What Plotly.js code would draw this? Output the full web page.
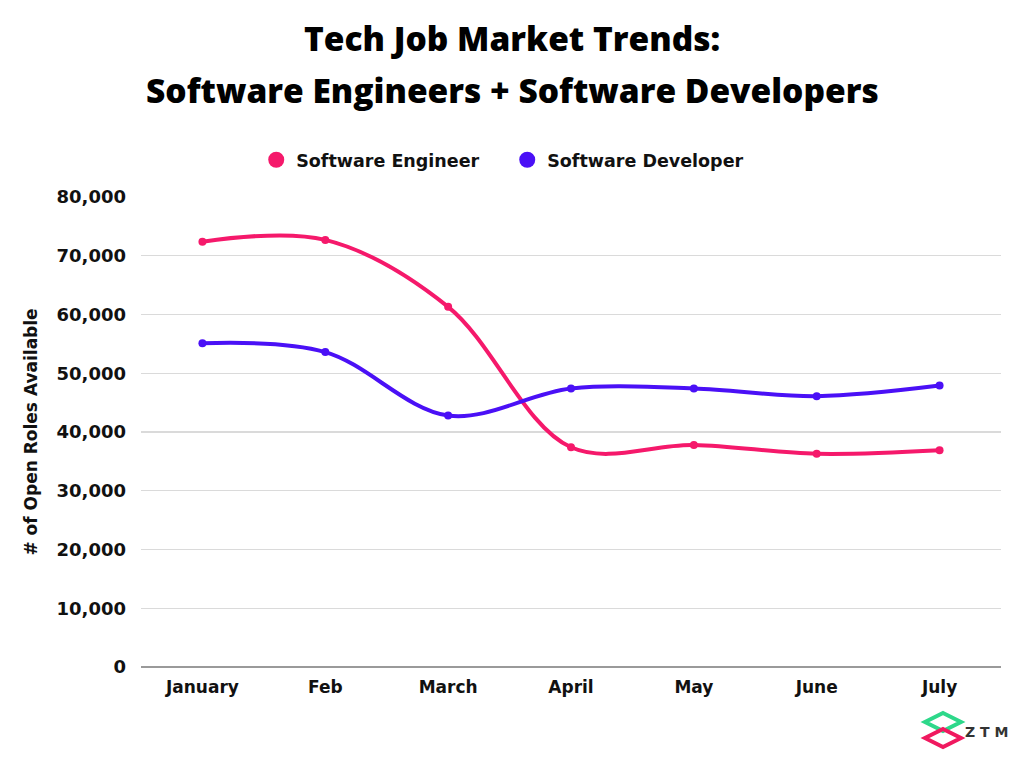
<!DOCTYPE html>
<html>
<head>
<meta charset="utf-8">
<script src="https://cdn.plot.ly/plotly-3.0.1.min.js"></script>
<style>
  html, body { margin: 0; padding: 0; background: #ffffff; }
  #chart { width: 1024px; height: 768px; }
</style>
</head>
<body>
<div id="chart"></div>
<script>
const months = ["January", "Feb", "March", "April", "May", "June", "July"];
const softwareEngineer = [72400, 72700, 61300, 37400, 37800, 36300, 36900];
const softwareDeveloper = [55100, 53600, 42800, 47400, 47400, 46100, 47900];
const yTicks = [0, 10000, 20000, 30000, 40000, 50000, 60000, 70000, 80000];
const yTickLabels = ["0", "10,000", "20,000", "30,000", "40,000", "50,000", "60,000", "70,000", "80,000"];

const pink = "#F5196B";
const purple = "#4A10F6";
const FONT = "'DejaVu Sans', sans-serif";
const TFONT = "'Open Sans', sans-serif";

const traces = [
  {
    x: months, y: softwareEngineer, type: "scatter", mode: "lines+markers",
    name: "Software Engineer", showlegend: false,
    line: { color: pink, width: 4, shape: "spline", smoothing: 1 },
    marker: { color: pink, size: 8 }, hoverinfo: "skip"
  },
  {
    x: months, y: softwareDeveloper, type: "scatter", mode: "lines+markers",
    name: "Software Developer", showlegend: false,
    line: { color: purple, width: 4, shape: "spline", smoothing: 1 },
    marker: { color: purple, size: 8 }, hoverinfo: "skip"
  },
  {
    x: [null], y: [null], type: "scatter", mode: "markers",
    name: "Software Engineer", marker: { color: pink, size: 20 }, hoverinfo: "skip"
  },
  {
    x: [null], y: [null], type: "scatter", mode: "markers",
    name: "Software Developer", marker: { color: purple, size: 20 }, hoverinfo: "skip"
  }
];

const layout = {
  width: 1024, height: 768,
  paper_bgcolor: "#ffffff", plot_bgcolor: "#ffffff",
  margin: { l: 141, r: 23, t: 197, b: 101 },
  font: { family: FONT, color: "#111111" },
  showlegend: true,
  legend: {
    orientation: "h", x: 0.134, xanchor: "left", y: 1.079, yanchor: "middle",
    font: { family: FONT, size: 17.5, weight: 700, color: "#111111" },
    itemsizing: "trace", itemwidth: 30, tracegroupgap: 0,
    entrywidth: 206, entrywidthmode: "pixels",
    bgcolor: "rgba(0,0,0,0)"
  },
  xaxis: {
    type: "category", categoryorder: "array", categoryarray: months,
    range: [-0.5, 6.5], showgrid: false, zeroline: false, showline: false,
    ticks: "", ticklabelstandoff: 8,
    tickfont: { family: FONT, size: 17, weight: 700, color: "#111111" },
    fixedrange: true
  },
  yaxis: {
    range: [0, 80000], tickvals: yTicks, ticktext: yTickLabels,
    showgrid: true, gridcolor: "#DADADA", gridwidth: 1.3,
    zeroline: true, zerolinecolor: "#9A9A9A", zerolinewidth: 1.5,
    showline: false, ticks: "", ticklabelstandoff: 14,
    tickfont: { family: FONT, size: 18, weight: 700, color: "#111111" },
    title: { text: "# of Open Roles Available", standoff: 14,
             font: { family: FONT, size: 17, weight: 700, color: "#111111" } },
    fixedrange: true
  },
  annotations: [
    { text: "Tech Job Market Trends:", xref: "paper", yref: "paper",
      x: (512 - 141) / 860, y: (667 - 38) / 470, xanchor: "center", yanchor: "middle",
      showarrow: false, font: { family: TFONT, size: 33.5, weight: 800, color: "#000000" } },
    { text: "Software Engineers + Software Developers", xref: "paper", yref: "paper",
      x: (512 - 141) / 860, y: (667 - 90) / 470, xanchor: "center", yanchor: "middle",
      showarrow: false, font: { family: TFONT, size: 33.5, weight: 800, color: "#000000" } },
    { text: "Z T M", xref: "paper", yref: "paper",
      x: (986 - 141) / 860, y: (667 - 732) / 470, xanchor: "center", yanchor: "middle",
      showarrow: false, font: { family: FONT, size: 14, weight: 700, color: "#333333" } }
  ],
  shapes: [
    { type: "path", xref: "paper", yref: "paper", layer: "above",
      path: "M " + ((943 - 141) / 860) + "," + ((667 - 713) / 470) +
            " L " + ((961 - 141) / 860) + "," + ((667 - 722) / 470) +
            " L " + ((943 - 141) / 860) + "," + ((667 - 731) / 470) +
            " L " + ((925 - 141) / 860) + "," + ((667 - 722) / 470) + " Z",
      line: { color: "#2DD88A", width: 4 } },
    { type: "path", xref: "paper", yref: "paper", layer: "above",
      path: "M " + ((943 - 141) / 860) + "," + ((667 - 729) / 470) +
            " L " + ((961 - 141) / 860) + "," + ((667 - 738) / 470) +
            " L " + ((943 - 141) / 860) + "," + ((667 - 747) / 470) +
            " L " + ((925 - 141) / 860) + "," + ((667 - 738) / 470) + " Z",
      line: { color: "#F0195F", width: 4 } }
  ]
};

Plotly.newPlot("chart", traces, layout, { staticPlot: true, displayModeBar: false });
</script>
</body>
</html>
